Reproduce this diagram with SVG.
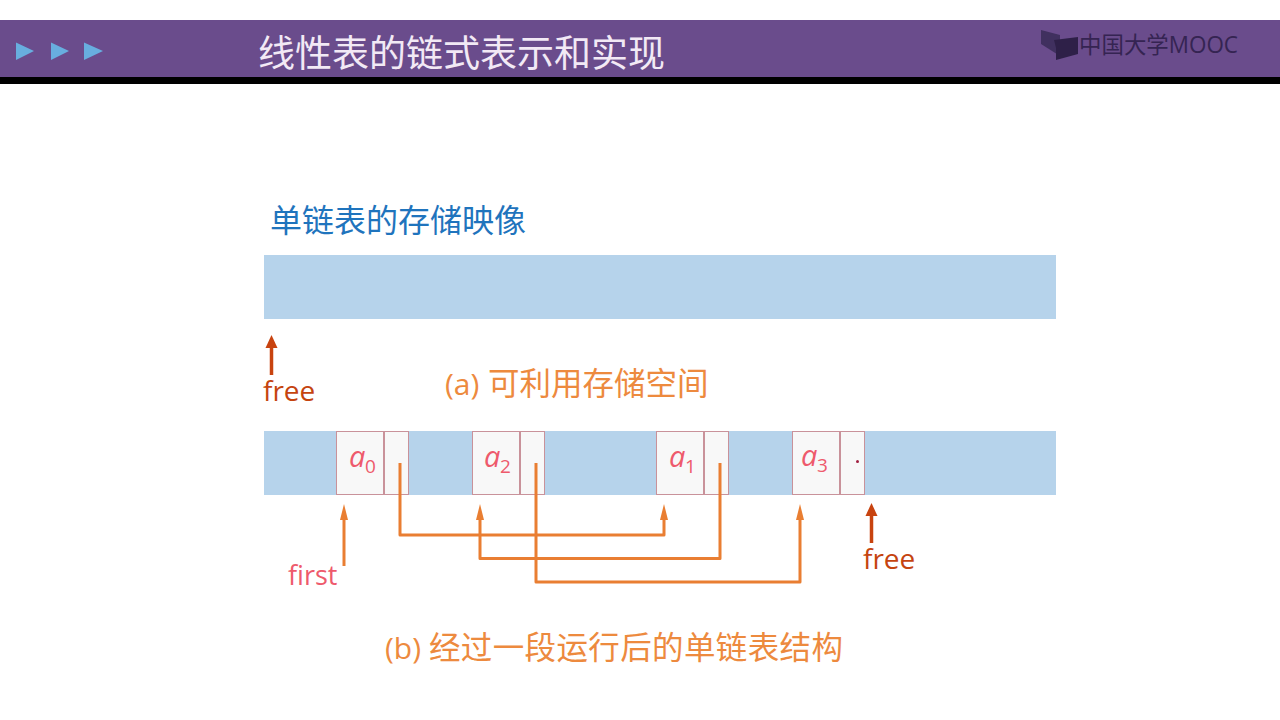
<svg xmlns="http://www.w3.org/2000/svg" width="1280" height="720" viewBox="0 0 1280 720">
<style>
text{font-family:"Open Sans","Noto Sans CJK SC",sans-serif}
.cell{fill:#f8f8f8;stroke:#c9929a;stroke-width:1}
.band{fill:#b6d3eb}
.var{font-style:italic;font-size:29px;fill:#ee5a6c}
.sub{font-size:19px;fill:#ee5a6c}
.cap{font-size:30px;fill:#ed8a3e}
.capz{font-size:31.500px;fill:#ed8a3e}
.or{fill:none;stroke:#e97e32;stroke-width:3;stroke-linejoin:round}
.head{fill:#e97e32}
.red{fill:none;stroke:#c8430f;stroke-width:3.500}
.redhead{fill:#c8430f}
.free{font-size:28px;fill:#c5440f}
</style>
<rect width="1280" height="720" fill="#fff"/>
<g id="header">
<rect y="20" width="1280" height="57" fill="#6a4c8c"/>
<rect y="77" width="1280" height="7" fill="#000"/>
<path d="M16 42.500L34 51L16 60ZM51 42.500L69 51L51 60ZM84 42.500L103 51L84 60Z" fill="#68aedf"/>
<text x="258" y="67" font-size="37" fill="#f2e9f5">线性表的链式表示和实现</text>
<path d="M1041 30L1060 35V56L1041 44Z" fill="#40305f"/>
<path d="M1054 40L1078 37V54L1056 60V48Z" fill="#2e2048"/>
<text x="1079" y="53" font-size="23" fill="#352452" textLength="159" lengthAdjust="spacingAndGlyphs">中国大学MOOC</text>
</g>
<text id="title" x="270" y="232" font-size="32" fill="#1f74bd">单链表的存储映像</text>
<g id="band-a"><rect class="band" x="264" y="255" width="792" height="64"/></g>
<g id="free-a">
<path class="red" d="M271.500 375V345"/><path class="redhead" d="M271.500 335L277.500 348H265.500Z"/>
<text class="free" x="263" y="401">free</text>
</g>
<g id="caption-a"><text class="cap" x="445" y="395">(a)</text><text class="capz" x="488" y="395">可利用存储空间</text></g>
<g id="band-b"><rect class="band" x="264" y="431" width="792" height="64"/></g>
<g id="node-a0">
<rect class="cell" x="336.500" y="431.500" width="47" height="63"/><rect class="cell" x="384.500" y="431.500" width="24" height="63"/>
<text class="var" x="349" y="467">a</text><text class="sub" x="365" y="473">0</text>
</g>
<g id="node-a2">
<rect class="cell" x="472.500" y="431.500" width="47" height="63"/><rect class="cell" x="520.500" y="431.500" width="24" height="63"/>
<text class="var" x="484" y="467">a</text><text class="sub" x="500" y="473">2</text>
</g>
<g id="node-a1">
<rect class="cell" x="656.500" y="431.500" width="47" height="63"/><rect class="cell" x="704.500" y="431.500" width="24" height="63"/>
<text class="var" x="669" y="467">a</text><text class="sub" x="685" y="473">1</text>
</g>
<g id="node-a3">
<rect class="cell" x="792.500" y="431.500" width="47" height="63"/><rect class="cell" x="840.500" y="431.500" width="24" height="63"/>
<text class="var" x="801" y="466">a</text><text class="sub" x="817" y="472">3</text>
<circle cx="857.500" cy="461.500" r="1.500" fill="#a02040"/>
</g>
<g id="connectors">
<path class="or" d="M344 566V516"/><path class="head" d="M344 504L348 520H340Z"/>
<path class="or" d="M400 463V535H664V516"/><path class="head" d="M664 504L668 520H660Z"/>
<path class="or" d="M720 463V558.500H480V516"/><path class="head" d="M480 504L484 520H476Z"/>
<path class="or" d="M536 463V582H800V516"/><path class="head" d="M800 504L804 520H796Z"/>
</g>
<text id="first" x="288" y="585" font-size="27" fill="#ee5a6c">first</text>
<g id="free-b">
<path class="red" d="M871.500 543V513"/><path class="redhead" d="M871.500 503L877.500 516H865.500Z"/>
<text class="free" x="863" y="569">free</text>
</g>
<g id="caption-b"><text class="cap" x="385" y="659">(b)</text><text class="capz" x="429" y="659" textLength="414" lengthAdjust="spacing">经过一段运行后的单链表结构</text></g>
</svg>
